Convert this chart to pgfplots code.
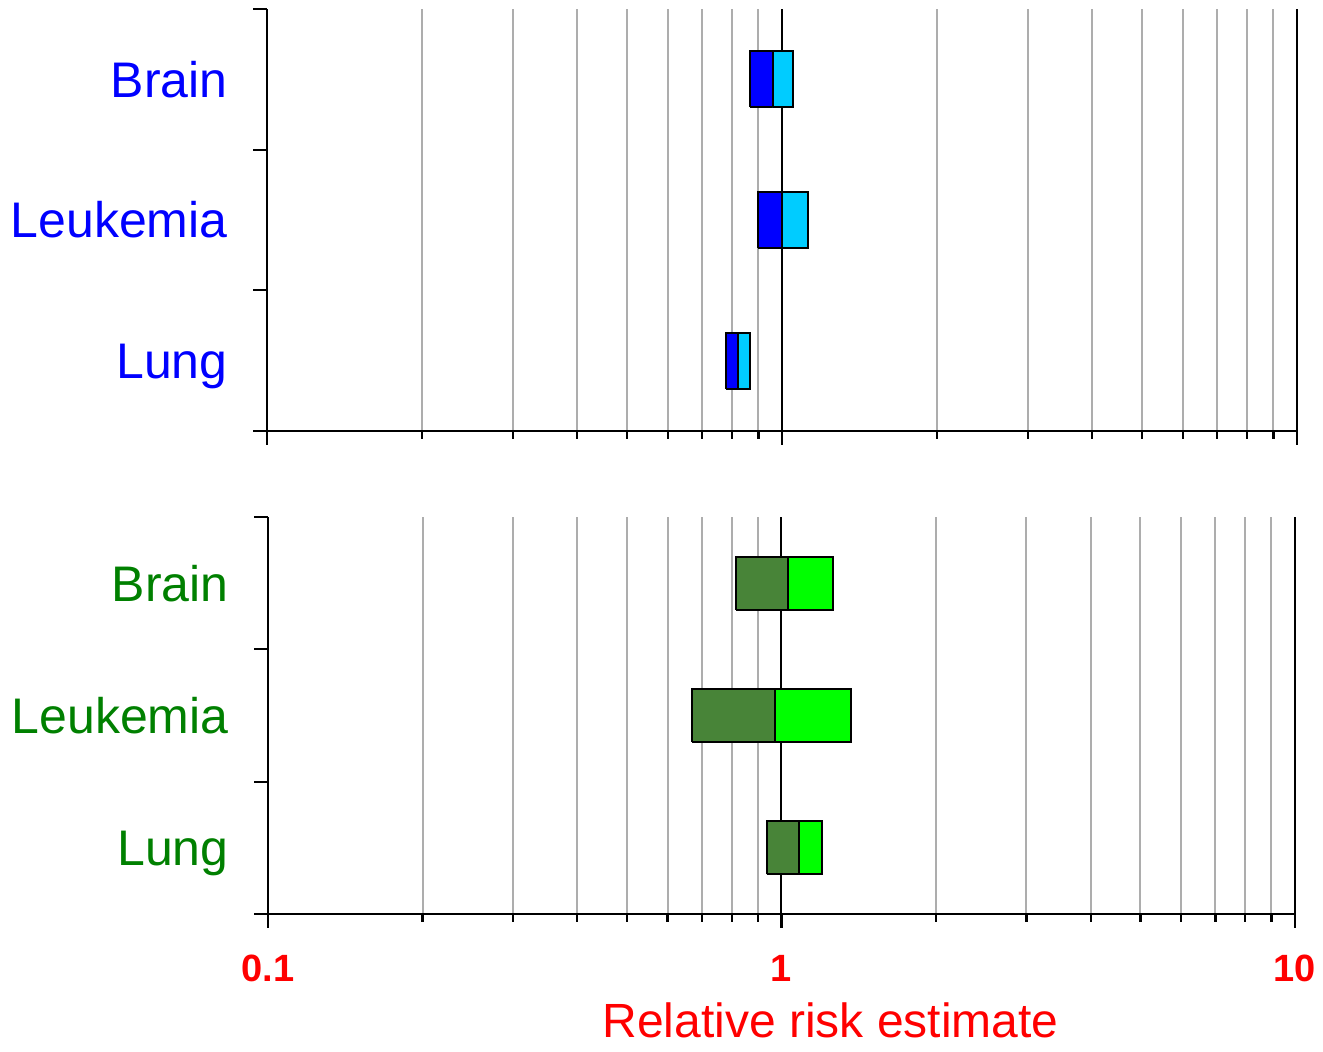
\documentclass[border=0pt]{standalone}
\usepackage{fontspec}
\setmainfont{Liberation Sans}
\usepackage{pgfplots}
\pgfplotsset{compat=1.18}

\definecolor{dkblue}{RGB}{0,0,255}
\definecolor{ltblue}{RGB}{0,204,255}
\definecolor{dkgreen}{RGB}{72,132,56}
\definecolor{ltgreen}{RGB}{0,255,0}
\definecolor{labgreen}{RGB}{0,128,0}

% one risk box: lower limit, estimate, upper limit, bottom, top, dark fill, light fill
\newcommand{\rrbox}[7]{%
  \addplot[draw=black, line width=1pt, fill=#6] coordinates {(#1,#4) (#2,#4) (#2,#5) (#1,#5) (#1,#4)};
  \addplot[draw=black, line width=1pt, fill=#7] coordinates {(#2,#4) (#3,#4) (#3,#5) (#2,#5) (#2,#4)};
}

\begin{document}
\begin{tikzpicture}
\path[use as bounding box] (-133.5pt,-310.5pt) rectangle (528pt,215.5pt);

\begin{axis}[
  scale only axis,
  at={(0,0)}, anchor=south west,
  width=515pt, height=211pt,
  xmode=log, xmin=0.1, xmax=10,
  ymin=0.5, ymax=3.5,
  axis x line*=bottom, axis y line*=left,
  axis line style={line width=1.2pt},
  tick align=outside,
  xtick={0.1,1,10}, xticklabels={},
  minor xtick={0.2,0.3,0.4,0.5,0.6,0.7,0.8,0.9,2,3,4,5,6,7,8,9},
  major tick length=7pt, minor tick length=4pt,
  tick style={black, line width=1.1pt},
  xmajorgrids, xminorgrids,
  major grid style={black, line width=1pt},
  minor grid style={black!32, line width=1pt},
  ytick={0.5,1.5,2.5,3.5}, yticklabels={},
  extra y ticks={1,2,3},
  extra y tick labels={Lung,Leukemia,Brain},
  extra y tick style={major tick length=0pt},
  yticklabel style={font=\fontsize{25}{25}\selectfont, anchor=base east,
    inner sep=0pt, xshift=-19.5pt, yshift=-9pt, text=dkblue},
]
\rrbox{0.867}{0.959}{1.052}{2.8}{3.2}{dkblue}{ltblue}
\rrbox{0.899}{1.000}{1.122}{1.8}{2.2}{dkblue}{ltblue}
\rrbox{0.780}{0.820}{0.868}{0.8}{1.2}{dkblue}{ltblue}
\end{axis}

\begin{axis}[
  scale only axis,
  at={(0.5pt,-43pt)}, anchor=north west,
  width=513.5pt, height=198.5pt,
  xmode=log, xmin=0.1, xmax=10,
  ymin=0.5, ymax=3.5,
  axis x line*=bottom, axis y line*=left,
  axis line style={line width=1.2pt},
  tick align=outside,
  xtick={0.1,1,10}, xticklabels={0.1,1,10},
  minor xtick={0.2,0.3,0.4,0.5,0.6,0.7,0.8,0.9,2,3,4,5,6,7,8,9},
  major tick length=7pt, minor tick length=4pt,
  tick style={black, line width=1.1pt},
  xmajorgrids, xminorgrids,
  major grid style={black, line width=1pt},
  minor grid style={black!32, line width=1pt},
  ytick={0.5,1.5,2.5,3.5}, yticklabels={},
  extra y ticks={1,2,3},
  extra y tick labels={Lung,Leukemia,Brain},
  extra y tick style={major tick length=0pt},
  yticklabel style={font=\fontsize{25}{25}\selectfont, anchor=base east,
    inner sep=0pt, xshift=-19.5pt, yshift=-9pt, text=labgreen},
  xticklabel style={font=\bfseries\fontsize{19}{19}\selectfont, text=red, yshift=-10pt},
  xlabel={Relative risk estimate},
  xlabel style={font=\fontsize{24}{24}\selectfont, text=red, inner sep=0pt,
    xshift=24.5pt, yshift=-7pt},
]
\rrbox{0.817}{1.030}{1.259}{2.8}{3.2}{dkgreen}{ltgreen}
\rrbox{0.668}{0.972}{1.364}{1.8}{2.2}{dkgreen}{ltgreen}
\rrbox{0.936}{1.084}{1.198}{0.8}{1.2}{dkgreen}{ltgreen}
\end{axis}
\end{tikzpicture}
\end{document}
